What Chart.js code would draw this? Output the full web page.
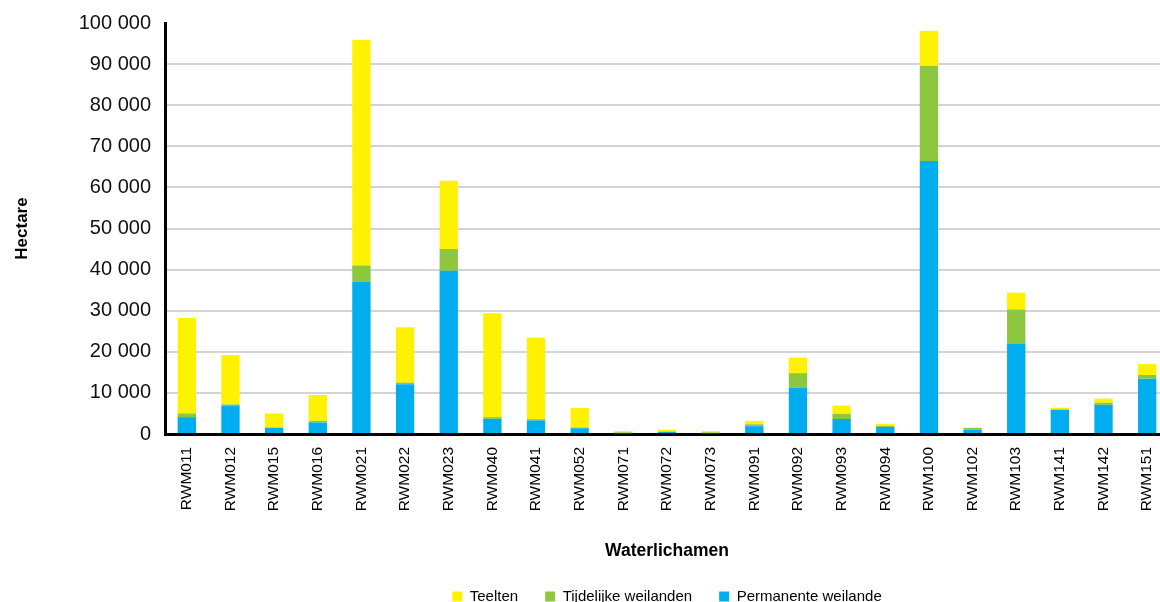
<!DOCTYPE html>
<html>
<head>
<meta charset="utf-8">
<script src="https://cdn.jsdelivr.net/npm/chart.js@4.4.1/dist/chart.umd.min.js"></script>
<style>
    html, body { margin: 0; padding: 0; background: #fff; overflow: hidden; }
    canvas { display: block; }
</style>
</head>
<body>
<canvas id="landChart" width="1170" height="602"></canvas>
<script>
// Waterlichamen en oppervlakte landbouwgrond per type (hectare)
const waterbodies = ['RWM011', 'RWM012', 'RWM015', 'RWM016', 'RWM021', 'RWM022', 'RWM023', 'RWM040',
    'RWM041', 'RWM052', 'RWM071', 'RWM072', 'RWM073', 'RWM091', 'RWM092', 'RWM093', 'RWM094',
    'RWM100', 'RWM102', 'RWM103', 'RWM141', 'RWM142', 'RWM151'];

const permanenteWeilanden = [4100, 6800, 1500, 2800, 37000, 12100, 39700, 3700, 3300, 1400, 200, 500,
    200, 1900, 11300, 3650, 1700, 66400, 1050, 22000, 5900, 7100, 13450];
const tijdelijkeWeilanden = [900, 400, 100, 400, 4000, 400, 5300, 400, 300, 200, 200, 100,
    200, 450, 3500, 1250, 250, 23200, 450, 8300, 50, 500, 900];
const teelten = [23200, 12000, 3400, 6300, 54900, 13500, 16600, 25300, 19800, 4700, 300, 450,
    300, 850, 3800, 2000, 550, 8500, 0, 4100, 450, 1000, 2650];

const yTicks = [0, 10000, 20000, 30000, 40000, 50000, 60000, 70000, 80000, 90000, 100000];

const FONT = "'Liberation Sans', Arial, Helvetica, sans-serif";

// 100000 -> "100 000"
function formatThousands(v) {
    return String(v).replace(/\B(?=(\d{3})+(?!\d))/g, ' ');
}

function barSet(label, data, color) {
    return {
        label: label,
        data: data,
        backgroundColor: color,
        borderWidth: 0,
        barPercentage: 0.42,
        categoryPercentage: 1.0,
        stack: 'opp'
    };
}

// center the legend under the plot area instead of the whole canvas
const legendUnderPlot = {
    id: 'legendUnderPlot',
    afterLayout(chart) {
        const lg = chart.legend;
        if (!lg) return;
        const w = lg.right - lg.left;
        const mid = (chart.chartArea.left + chart.chartArea.right) / 2;
        lg.left = mid - w / 2;
        lg.right = mid + w / 2;
    }
};

const ctx = document.getElementById('landChart').getContext('2d');
new Chart(ctx, {
    type: 'bar',
    data: {
        labels: waterbodies,
        datasets: [
            barSet('Permanente weilande', permanenteWeilanden, '#00aeef'),
            barSet('Tijdelijke weilanden', tijdelijkeWeilanden, '#8dc63f'),
            barSet('Teelten', teelten, '#fff200')
        ]
    },
    plugins: [legendUnderPlot],
    options: {
        responsive: false,
        animation: false,
        // canvas is a bit wider than the page, so the last column runs past the right edge
        layout: { padding: { top: 23, right: 1, bottom: -12, left: 0 } },
        plugins: {
            legend: {
                position: 'bottom',
                reverse: true,
                labels: {
                    boxWidth: 10,
                    boxHeight: 10,
                    padding: 27,
                    color: '#000',
                    font: { family: FONT, size: 15 }
                }
            },
            tooltip: { enabled: false }
        },
        scales: {
            x: {
                stacked: true,
                grid: { display: false, drawTicks: false },
                border: { color: '#000', width: 3 },
                ticks: {
                    minRotation: 90,
                    maxRotation: 90,
                    autoSkip: false,
                    padding: 13,
                    color: '#000',
                    font: { family: FONT, size: 15.5 }
                },
                title: {
                    display: true,
                    text: 'Waterlichamen',
                    color: '#000',
                    padding: { top: 0, bottom: 0 },
                    font: { family: FONT, size: 17.5, weight: 'bold' }
                },
                afterFit: function (scale) {
                    scale.height = 128;
                    scale.paddingLeft = 0;
                    scale.paddingRight = 0;
                }
            },
            y: {
                stacked: true,
                min: 0,
                max: 100000,
                afterBuildTicks: function (scale) {
                    scale.ticks = yTicks.map(v => ({ value: v }));
                },
                grid: {
                    drawTicks: false,
                    lineWidth: 2,
                    color: function (c) {
                        const v = c.tick ? c.tick.value : 0;
                        return (v === 0 || v === 100000) ? 'rgba(0,0,0,0)' : '#d4d4d4';
                    }
                },
                border: { color: '#000', width: 3 },
                ticks: {
                    padding: 14,
                    color: '#111',
                    font: { family: FONT, size: 20 },
                    callback: function (v) { return formatThousands(v); }
                },
                title: {
                    display: true,
                    text: 'Hectare',
                    color: '#000',
                    padding: { top: 12, bottom: 0 },
                    font: { family: FONT, size: 17, weight: 'bold' }
                },
                afterFit: function (scale) {
                    scale.width = 165;
                    scale.paddingTop = 0;
                    scale.paddingBottom = 0;
                }
            }
        }
    }
});
</script>
</body>
</html>
